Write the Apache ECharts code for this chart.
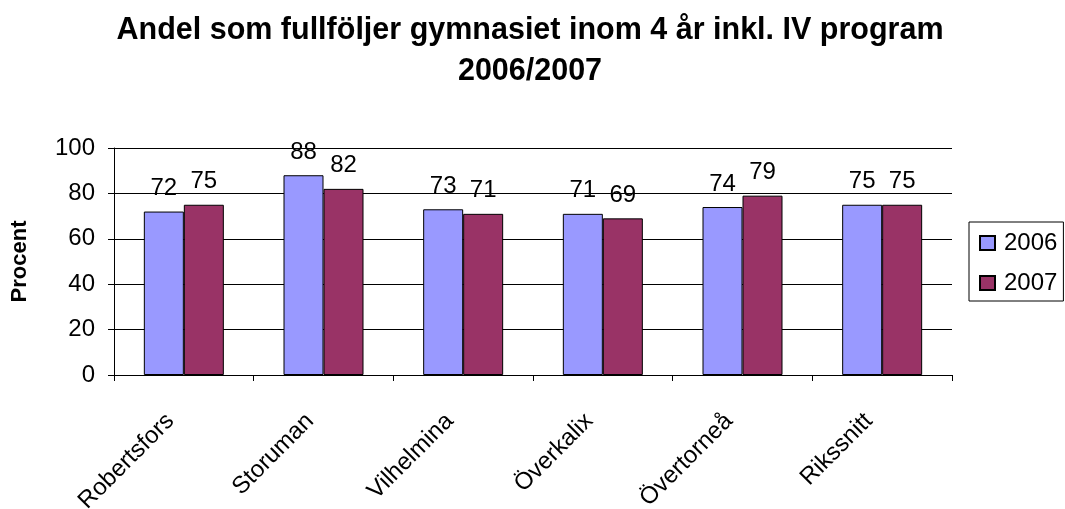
<!DOCTYPE html>
<html>
<head>
<meta charset="utf-8">
<script src="https://cdn.jsdelivr.net/npm/echarts@6/dist/echarts.min.js"></script>
<style>
html,body{margin:0;padding:0;background:#fff;}
#chart{width:1065px;height:509px;}
</style>
</head>
<body>
<div id="chart"></div>
<script>
// kommuner
var categories = ['Robertsfors', 'Storuman', 'Vilhelmina', 'Överkalix', 'Övertorneå', 'Rikssnitt'];
var y2006 = [72, 88, 73, 71, 74, 75];
var y2007 = [75, 82, 71, 69, 79, 75];
var yTicks = [0, 20, 40, 60, 80, 100];

var font = 'Liberation Sans, Arial, sans-serif';
var myChart = echarts.init(document.getElementById('chart'), null, {renderer: 'canvas'});

myChart.setOption({
    animation: false,
    title: {
        text: 'Andel som fullföljer gymnasiet inom 4 år inkl. IV program\n2006/2007',
        left: 525,
        textAlign: 'center',
        top: 5,
        textStyle: {
            fontFamily: font,
            fontSize: 30.5,
            fontWeight: 'bold',
            color: '#000',
            lineHeight: 41
        }
    },
    legend: {
        orient: 'vertical',
        left: 969,
        top: 222,
        padding: [9, 6, 6, 10],
        itemGap: 16,
        itemWidth: 15,
        itemHeight: 14,
        borderColor: '#000',
        borderWidth: 1,
        borderRadius: 0,
        textStyle: {fontFamily: font, fontSize: 24, color: '#000', padding: [0, 0, 0, 4]},
        data: [
            {name: '2006', icon: 'rect'},
            {name: '2007', icon: 'rect'}
        ]
    },
    grid: {
        left: 114,
        top: 148,
        width: 838,
        height: 227,
        containLabel: false,
        outerBoundsMode: 'none'
    },
    xAxis: {
        type: 'category',
        data: categories,
        axisLine: {lineStyle: {color: '#000', width: 1}},
        axisTick: {show: true, length: 6, lineStyle: {color: '#000'}},
        axisLabel: {
            rotate: 45,
            interval: 0,
            margin: 29,
            padding: [0, 19, 0, 0],
            fontFamily: font,
            fontSize: 24,
            color: '#000'
        }
    },
    yAxis: {
        type: 'value',
        min: yTicks[0],
        max: yTicks[yTicks.length - 1],
        interval: 20,
        name: 'Procent',
        nameLocation: 'middle',
        nameGap: 83,
        nameTextStyle: {fontFamily: font, fontSize: 22, fontWeight: 'bold', color: '#000'},
        axisLine: {show: true, lineStyle: {color: '#000', width: 1}},
        axisTick: {show: true, length: 6, lineStyle: {color: '#000'}},
        axisLabel: {fontFamily: font, fontSize: 24, color: '#000', margin: 19},
        splitLine: {show: true, lineStyle: {color: '#000', width: 1}}
    },
    series: [
        {
            name: '2006',
            type: 'bar',
            data: y2006,
            barWidth: 40,
            barGap: '0%',
            itemStyle: {color: '#9999FF', borderColor: '#000', borderWidth: 1},
            label: {show: true, position: 'top', distance: 11, fontFamily: font, fontSize: 24, color: '#000'}
        },
        {
            name: '2007',
            type: 'bar',
            data: y2007,
            barWidth: 40,
            barGap: '0%',
            itemStyle: {color: '#993366', borderColor: '#000', borderWidth: 1},
            label: {show: true, position: 'top', distance: 11, fontFamily: font, fontSize: 24, color: '#000'}
        }
    ]
});
</script>
</body>
</html>
